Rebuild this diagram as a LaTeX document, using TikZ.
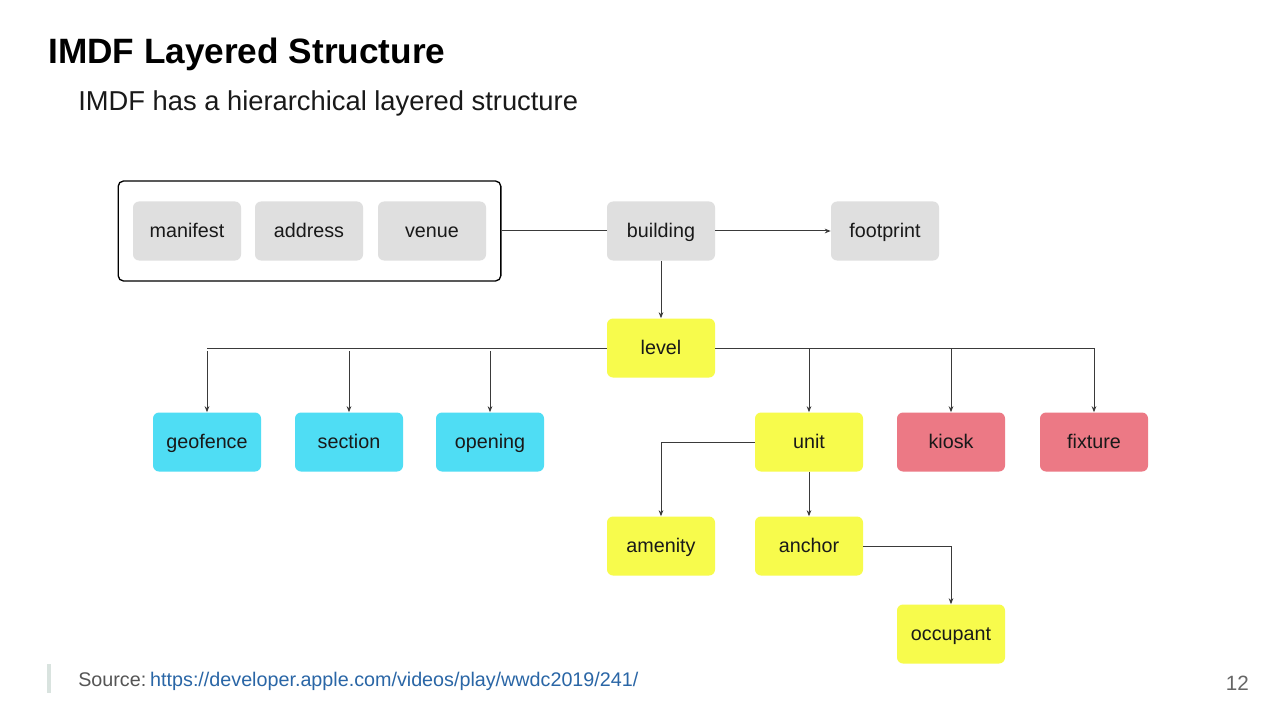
\documentclass[tikz,border=0pt]{standalone}
\usepackage{fontspec}
\setmainfont{Liberation Sans}
\usetikzlibrary{arrows.meta}
\definecolor{boxgray}{HTML}{DFDFDF}
\definecolor{boxyellow}{HTML}{F7FB4C}
\definecolor{boxcyan}{HTML}{4FDDF4}
\definecolor{boxpink}{HTML}{EC7985}
\definecolor{linegray}{HTML}{3A3A3A}
\definecolor{linkblue}{HTML}{2A66A6}
\definecolor{srcgray}{HTML}{555555}
\definecolor{bargray}{HTML}{D9E3DF}
\tikzset{
  ent/.style={rounded corners=4.5pt, minimum width=81pt, minimum height=44.25pt, inner sep=0pt,
    text height=11pt, text depth=1pt,
    font=\fontsize{14.8pt}{17pt}\selectfont, text=black!90},
  grayent/.style={ent, fill=boxgray},
  yelent/.style={ent, fill=boxyellow},
  cyanent/.style={ent, fill=boxcyan},
  pinkent/.style={ent, fill=boxpink},
  conn/.style={draw=linegray, line width=0.75pt},
  arr/.style={conn, -{Stealth[length=4.5pt,width=3.5pt]}},
}
\begin{document}
\begin{tikzpicture}[x=0.75pt,y=-0.75pt]
\useasboundingbox[fill=white] (0,0) rectangle (1280,720);
% titles
\node[anchor=base west, inner sep=0pt, font=\fontsize{26.4pt}{30pt}\selectfont\bfseries, text=black] (title) at (48,64) {IMDF Layered Structure};
\node[anchor=base west, inner sep=0pt, font=\fontsize{20.5pt}{24pt}\selectfont, text=black!90] (subtitle) at (78,111) {IMDF has a hierarchical layered structure};
% group box
\node[draw=black, line width=1pt, rounded corners=4pt, minimum width=287pt, minimum height=75pt, inner sep=0pt] (group) at (309.5,231) {};
\node[grayent] (manifest) at (187,231) {manifest};
\node[grayent] (address) at (309,231) {address};
\node[grayent] (venue) at (432,231) {venue};
\node[grayent] (building) at (661,231) {building};
\node[grayent] (footprint) at (885,231) {footprint};
\node[yelent] (level) at (661,348) {level};
\node[cyanent] (geofence) at (207,442) {geofence};
\node[cyanent] (section) at (349,442) {section};
\node[cyanent] (opening) at (490,442) {opening};
\node[yelent] (unit) at (809,442) {unit};
\node[pinkent] (kiosk) at (951,442) {kiosk};
\node[pinkent] (fixture) at (1094,442) {fixture};
\node[yelent] (amenity) at (661,546) {amenity};
\node[yelent] (anchor) at (809,546) {anchor};
\node[yelent] (occupant) at (951,634) {occupant};
% connectors
\draw[conn] (group.east) -- (building.west);
\draw[arr] (building.east) -- (footprint.west);
\draw[arr] (building.south) -- (level.north);
\coordinate (lleft) at (geofence.north |- level.west);
\coordinate (lright) at (fixture.north |- level.east);
\draw[conn] (level.west) -- (lleft);
\draw[conn] (level.east) -- (lright);
\draw[arr] (lleft) ++(0,3) -- (geofence.north);
\draw[arr] (section.north |- level.west) ++(0,3) -- (section.north);
\draw[arr] (opening.north |- level.west) ++(0,3) -- (opening.north);
\draw[arr] (unit.north |- level.east) -- (unit.north);
\draw[arr] (kiosk.north |- level.east) -- (kiosk.north);
\draw[arr] (lright) -- (fixture.north);
\draw[arr] (unit.west) -| (amenity.north);
\draw[arr] (unit.south) -- (anchor.north);
\draw[arr] (anchor.east) -| (occupant.north);
% footer
\fill[bargray] (47,664) rectangle (51,693);
\node[anchor=base west, inner sep=0pt, font=\fontsize{14.8pt}{17pt}\selectfont] (source) at (78,686) {\textcolor{srcgray}{Source:}\hspace{0.2em}\textcolor{linkblue}{https://developer.apple.com/videos/play/wwdc2019/241/}};
\node[anchor=base east, inner sep=0pt, font=\fontsize{15.5pt}{18pt}\selectfont, text=black!60] (pagenum) at (1249,690) {12};
\end{tikzpicture}
\end{document}
